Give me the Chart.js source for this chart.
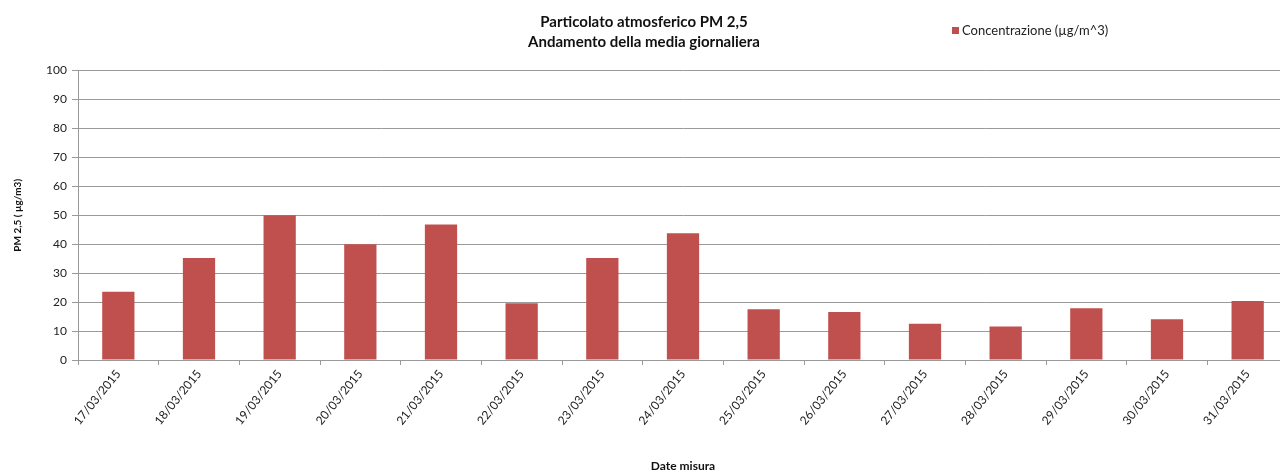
<!DOCTYPE html>
<html lang="it">
<head>
<meta charset="UTF-8">
<title>Particolato atmosferico PM 2,5</title>
<script src="https://cdn.jsdelivr.net/npm/chart.js"></script>
<style>
  html, body { margin: 0; padding: 0; background: #fff; overflow: hidden; }
  #wrap { width: 1290px; height: 475px; }
</style>
</head>
<body>
<div id="wrap"><canvas id="pmChart" width="1290" height="475"></canvas></div>
<script>
// date di misura
const dateMisura = ['17/03/2015', '18/03/2015', '19/03/2015', '20/03/2015', '21/03/2015',
  '22/03/2015', '23/03/2015', '24/03/2015', '25/03/2015', '26/03/2015',
  '27/03/2015', '28/03/2015', '29/03/2015', '30/03/2015', '31/03/2015'];
// media giornaliera PM 2,5 (µg/m^3)
const concentrazione = [23.6, 35.2, 50, 40, 46.8, 19.6, 35.2, 43.8, 17.5, 16.6, 12.5, 11.6, 17.9, 14.1, 20.4];
const serieLabel = 'Concentrazione (µg/m^3)';
const titolo = ['Particolato atmosferico PM 2,5', 'Andamento della media giornaliera'];

const barColor = '#C0504D';
const gridColor = '#9a9a9a';
const fontFam = 'Lato, "Open Sans", sans-serif';

// legenda a destra del titolo, come nell'originale
const legendaLaterale = {
  id: 'legendaLaterale',
  afterDraw(chart) {
    const ctx = chart.ctx;
    const ds = chart.data.datasets[0];
    ctx.save();
    ctx.fillStyle = ds.backgroundColor;
    ctx.fillRect(952, 27, 7, 7);
    ctx.fillStyle = '#222';
    ctx.font = '13px ' + fontFam;
    ctx.textBaseline = 'middle';
    ctx.fillText(ds.label, 962, 31);
    ctx.restore();
  }
};

new Chart(document.getElementById('pmChart'), {
  type: 'bar',
  data: {
    labels: dateMisura,
    datasets: [{
      label: serieLabel,
      data: concentrazione,
      backgroundColor: barColor,
      borderWidth: 0,
      barPercentage: 0.4,
      categoryPercentage: 1.0
    }]
  },
  options: {
    responsive: false,
    animation: false,
    layout: { padding: { left: 0, right: 2, top: 0, bottom: 0 } },
    plugins: {
      legend: { display: false },
      tooltip: { enabled: false },
      title: {
        display: true,
        text: titolo,
        color: '#111',
        font: { family: fontFam, size: 15, weight: 'bold', lineHeight: 1.35 },
        padding: { top: 12, bottom: 18 }
      }
    },
    scales: {
      x: {
        grid: {
          drawOnChartArea: false,
          drawTicks: true,
          tickLength: 5,
          color: gridColor
        },
        border: { color: gridColor, width: 1 },
        ticks: {
          autoSkip: false,
          minRotation: 51,
          maxRotation: 51,
          padding: 2,
          color: '#222',
          font: { family: fontFam, size: 12 }
        },
        title: {
          display: true,
          text: 'Date misura',
          color: '#111',
          font: { family: fontFam, size: 12, weight: 'bold' },
          padding: { top: 0, bottom: 2 }
        },
        afterFit(scale) { scale.height = 115; }
      },
      y: {
        min: 0,
        max: 100,
        ticks: {
          stepSize: 10,
          padding: 5,
          color: '#222',
          font: { family: fontFam, size: 12 }
        },
        grid: { color: gridColor, tickLength: 6 },
        border: { color: gridColor, width: 1 },
        title: {
          display: true,
          text: 'PM 2,5 ( µg/m3)',
          color: '#111',
          font: { family: fontFam, size: 10, weight: 'bold' },
          padding: { top: 12, bottom: 0 }
        },
        afterFit(scale) { scale.width = 78; }
      }
    }
  },
  plugins: [legendaLaterale]
});
</script>
</body>
</html>
